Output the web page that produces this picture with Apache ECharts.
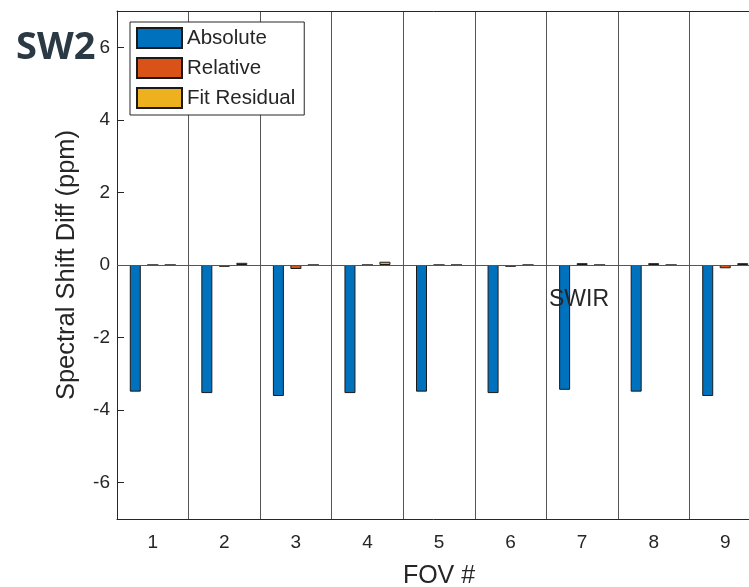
<!DOCTYPE html>
<html>
<head>
<meta charset="utf-8">
<script src="https://cdn.jsdelivr.net/npm/echarts@6/dist/echarts.min.js"></script>
<style>
  html, body { margin: 0; padding: 0; background: #ffffff; }
  #chart { width: 749px; height: 587px; }
</style>
</head>
<body>
<div id="chart"></div>
<script>
// FOV numbers along the x axis
const fovs = ['1', '2', '3', '4', '5', '6', '7', '8', '9'];
// Spectral shift differences (ppm) per FOV
const absoluteShift = [-3.49, -3.53, -3.61, -3.53, -3.49, -3.53, -3.44, -3.49, -3.61];
const relativeShift = [0, -0.05, -0.11, 0, 0, -0.05, 0.05, 0.05, -0.09];
const fitResidual = [0, 0.06, 0, 0.09, 0, 0, 0, 0, 0.05];
// Y tick values
const yTicks = [-6, -4, -2, 0, 2, 4, 6];

const FONT = '"Liberation Sans", Arial, Helvetica, sans-serif';
const INK = '#262626';

const chart = echarts.init(document.getElementById('chart'), null, { renderer: 'canvas' });

function barSeries(name, data, color) {
  return {
    name: name,
    type: 'bar',
    data: data,
    barWidth: 11,
    barGap: '59%',
    itemStyle: { color: color, borderColor: '#1a1a1a', borderWidth: 1 },
    emphasis: { disabled: true },
    animation: false
  };
}

const series = [
  barSeries('Absolute', absoluteShift, '#0072BD'),
  barSeries('Relative', relativeShift, '#D95319'),
  barSeries('Fit Residual', fitResidual, '#EDB120')
];
// bar baseline at zero
series[0].markLine = {
  silent: true,
  symbol: 'none',
  label: { show: false },
  lineStyle: { color: '#555555', width: 1, type: 'solid' },
  data: [{ yAxis: 0 }],
  animation: false
};

chart.setOption({
  backgroundColor: '#ffffff',
  animation: false,
  textStyle: { fontFamily: FONT },
  // the axes box runs past the right edge of the page
  grid: { left: 117, top: 11, width: 644, height: 508, containLabel: false, outerBoundsMode: 'none' },
  legend: {
    orient: 'vertical',
    left: 130,
    top: 22,
    data: ['Absolute', 'Relative', 'Fit Residual'],
    icon: 'rect',
    itemWidth: 45,
    itemHeight: 20,
    itemGap: 8,
    padding: [5, 9, 6, 6],
    borderColor: INK,
    borderWidth: 1,
    backgroundColor: '#ffffff',
    textStyle: { fontSize: 20.5, lineHeight: 20, color: INK, fontFamily: FONT },
    selectedMode: false
  },
  xAxis: [
    {
      type: 'category',
      data: fovs,
      position: 'bottom',
      boundaryGap: true,
      name: 'FOV #',
      nameLocation: 'middle',
      nameGap: 45,
      nameTextStyle: { fontSize: 25, color: INK, fontFamily: FONT },
      axisLine: { onZero: false, lineStyle: { color: INK, width: 1 } },
      axisTick: { inside: true, alignWithLabel: true, length: 7, lineStyle: { color: INK } },
      axisLabel: { fontSize: 19, color: INK, margin: 14, fontFamily: FONT },
      splitLine: { show: true, lineStyle: { color: '#555555', width: 1 } }
    },
    {
      type: 'category',
      data: fovs,
      position: 'top',
      boundaryGap: true,
      axisLine: { onZero: false, lineStyle: { color: INK, width: 1 } },
      axisTick: { inside: true, alignWithLabel: true, length: 7, lineStyle: { color: INK } },
      axisLabel: { show: false },
      splitLine: { show: false }
    }
  ],
  yAxis: {
    type: 'value',
    min: -7,
    max: 7,
    name: 'Spectral Shift Diff (ppm)',
    nameLocation: 'middle',
    nameGap: 37,
    nameTextStyle: { fontSize: 25.5, color: INK, fontFamily: FONT },
    axisLine: { show: true, onZero: false, lineStyle: { color: INK, width: 1 } },
    axisTick: { show: true, inside: true, length: 7, customValues: yTicks, lineStyle: { color: INK } },
    axisLabel: { fontSize: 19, color: INK, margin: 7, customValues: yTicks, fontFamily: FONT },
    splitLine: { show: false }
  },
  graphic: [
    {
      type: 'text',
      x: 16,
      y: 48,
      z: 100,
      style: {
        text: 'SW2',
        font: 'bold 38px "Open Sans", sans-serif',
        fill: '#2a3943',
        verticalAlign: 'middle'
      }
    },
    {
      type: 'text',
      x: 549,
      y: 288,
      z: 100,
      style: {
        text: 'SWIR',
        font: '23px ' + FONT,
        fill: INK
      }
    }
  ],
  series: series
});
</script>
</body>
</html>
